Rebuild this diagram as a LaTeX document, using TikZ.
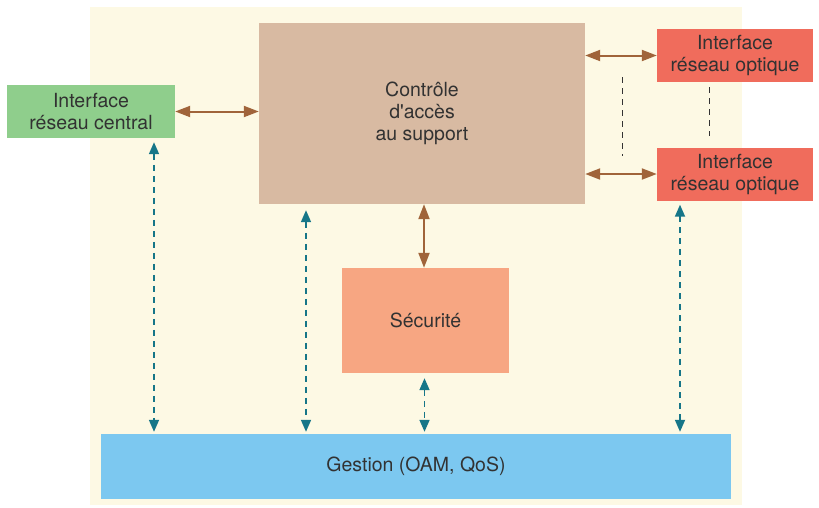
\documentclass[tikz,border=0pt]{standalone}
\usepackage{fontspec}
\setmainfont{TeX Gyre Heros}
\usetikzlibrary{arrows.meta,positioning}
\definecolor{bgyellow}{RGB}{253,249,228}
\definecolor{boxgreen}{RGB}{143,206,140}
\definecolor{boxbrown}{RGB}{216,186,162}
\definecolor{boxred}{RGB}{240,108,92}
\definecolor{boxsalmon}{RGB}{247,166,130}
\definecolor{boxblue}{RGB}{124,200,240}
\definecolor{arrbrown}{RGB}{160,100,58}
\definecolor{arrteal}{RGB}{22,118,136}
\definecolor{txtgray}{RGB}{50,50,50}

\tikzset{
  bloc/.style={inner sep=0pt, align=center, text=txtgray,
    font=\fontsize{19.5}{22}\selectfont},
  lien/.style={arrbrown, line width=2pt,
    {Triangle[length=15pt,width=11pt]}-{Triangle[length=15pt,width=11pt]}},
  gest/.style={arrteal, line width=1.7pt, dash pattern=on 6pt off 5pt,
    {Triangle[length=12pt,width=10pt]}-{Triangle[length=12pt,width=10pt]}},
  pointille/.style={black!80, line width=1pt, dash pattern=on 6pt off 5pt}
}

\begin{document}
\begin{tikzpicture}[x=1pt,y=-1pt]
\useasboundingbox (0,0) rectangle (819,507);

% fond
\fill[bgyellow] (90,7) rectangle (742,505);

% Draw the blocks at fixed positions
\node[bloc, fill=boxgreen, minimum width=168pt, minimum height=53pt] (central) at (91,111.5) {Interface\\r\'eseau central};
\node[bloc, fill=boxbrown, minimum width=326pt, minimum height=181pt] (mac) at (422,113.5) {Contr\^ole\\d\textquotesingle acc\`es\\au support};
\foreach \i/\y in {1/55.5, 2/174} {
    \node[bloc, fill=boxred, minimum width=156pt, minimum height=53pt] (optique\i) at (735,\y) {Interface\\r\'eseau optique};
}
\node[bloc, fill=boxsalmon, minimum width=167pt, minimum height=105pt] (secu) at (425.5,320.5) {S\'ecurit\'e};
\node[bloc, fill=boxblue, minimum width=630pt, minimum height=65pt] (gestion) at (416,466.5) {Gestion (OAM, QoS)};

% Draw the data links
\draw[lien] (central.east) -- (central.east -| mac.west);
\draw[lien] (mac.east |- optique1.west) -- (optique1.west);
\draw[lien] (mac.east |- optique2.west) -- (optique2.west);
\draw[lien] ([xshift=2pt]mac.south) -- ([xshift=2pt]mac.south |- secu.north);

% Draw the dotted continuation between the optical interfaces
\coordinate (p1) at (622,77);
\coordinate (p2) at (622,156);
\draw[pointille] (p1) -- (p2);
\draw[pointille, shorten <=5pt, shorten >=11pt] ([xshift=-26pt]optique1.south) -- ([xshift=-26pt]optique2.north);

% Draw the management links
\draw[gest, shorten <=4pt, shorten >=2pt] ([xshift=63pt]central.south) -- ([xshift=63pt]central.south |- gestion.north);
\draw[gest, shorten <=6pt, shorten >=2pt] ([xshift=-116pt]mac.south) -- ([xshift=-116pt]mac.south |- gestion.north);
\draw[gest, shorten <=5pt, shorten >=2pt] ([xshift=-1pt]secu.south) -- ([xshift=-1pt]secu.south |- gestion.north);
\draw[gest, shorten <=4pt, shorten >=2pt] ([xshift=-55pt]optique2.south) -- ([xshift=-55pt]optique2.south |- gestion.north);

\end{tikzpicture}
\end{document}
